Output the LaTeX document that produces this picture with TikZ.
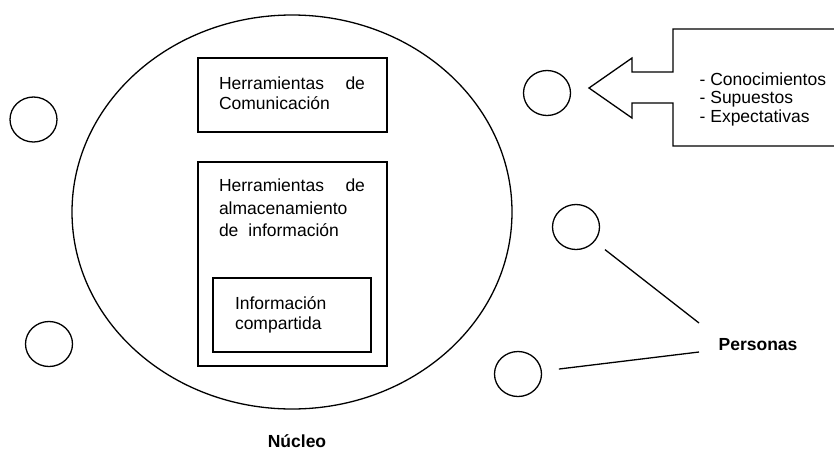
\documentclass[tikz,border=0pt]{standalone}
\usepackage{fontspec}
\setmainfont{Liberation Sans}
\usetikzlibrary{shapes.geometric,positioning,calc}

\begin{document}
\begin{tikzpicture}[x=1pt, y=-1pt, line width=1.3pt,
		caja/.style={rectangle, draw, inner sep=0pt},
		texto/.style={align=left, inner sep=0pt, font=\fontsize{17.5}{21}\selectfont},
		persona/.style={ellipse, draw, minimum width=47pt, minimum height=45pt, inner sep=0pt},
		etiqueta/.style={inner sep=0pt, font=\fontsize{17.5}{21}\selectfont\bfseries}]
	\useasboundingbox (0,0) rectangle (834,453);
	\clip (0,0) rectangle (834,453);

	% Nucleo
	\node[ellipse, draw, minimum width=440pt, minimum height=394pt, inner sep=0pt] (nucleo) at (292,212) {};
	\node[etiqueta] (nucleolbl) at (297,441) {Núcleo};

	% Herramientas
	\node[caja, minimum width=189pt, minimum height=74pt] (comunic) at (292.5,95) {};
	\node[texto, text width=146pt, anchor=north west, font=\fontsize{17.5}{20}\selectfont] (comunictxt) at ($(comunic.north west)+(21,19)$) {Herramientas \hfill de\\Comunicación};

	\node[caja, minimum width=189pt, minimum height=204pt] (almac) at (292.5,264) {};
	\node[texto, text width=146pt, anchor=north west, font=\fontsize{17.5}{22.5}\selectfont] (almactxt) at ($(almac.north west)+(21,17)$) {Herramientas \hfill de\\almacenamiento\\de\hspace{10pt}información};

	\node[caja, minimum width=158pt, minimum height=74pt] (compart) at (292,315) {};
	\node[texto, anchor=north west, font=\fontsize{17.5}{20}\selectfont] (compartxt) at ($(compart.north west)+(22,19)$) {Información\\compartida};

	% Personas
	\node[persona] (p1) at (33.5,119.5) {};
	\node[persona] (p2) at (49,344) {};
	\node[persona] (p3) at (547,93) {};
	\node[persona] (p4) at (576,227) {};
	\node[persona] (p5) at (518,374) {};

	\node[etiqueta, anchor=west] (personas) at (718,345) {Personas};
	\draw[shorten <=13pt] (p4) -- ($(personas.west)+(-19,-22)$);
	\draw[shorten <=17pt] (p5) -- ($(personas.west)+(-19,7)$);

	% Flecha y saberes
	\coordinate (punta) at (589,88);
	\draw (860,29) -- (673,29) -- (673,72) -- (632,72) -- (632,58) -- (punta)
		-- (632,118) -- (632,103) -- (673,103) -- (673,146) -- (860,146);
	\node[texto, anchor=west, font=\fontsize{17.5}{18.5}\selectfont] (saberes) at (699,99) {- Conocimientos\\- Supuestos\\- Expectativas};
\end{tikzpicture}
\end{document}
